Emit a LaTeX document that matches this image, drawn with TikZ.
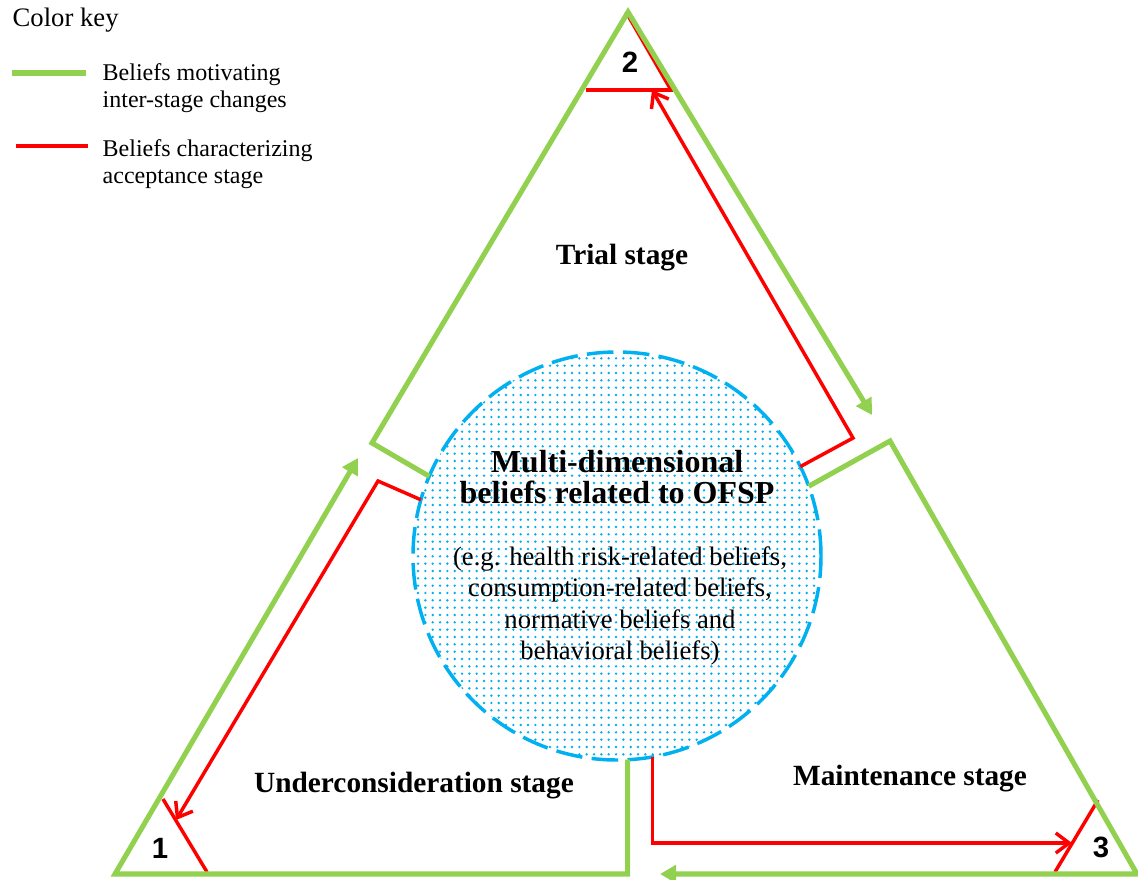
\documentclass[tikz,border=0pt]{standalone}
\usepackage{fontspec}
\setmainfont{Liberation Serif}
\newfontfamily\numfont{Liberation Sans}
\usetikzlibrary{arrows.meta,patterns.meta,positioning}

\definecolor{keygreen}{HTML}{92D050}
\definecolor{keyred}{HTML}{FF0000}
\definecolor{keyblue}{HTML}{00B0F0}

\tikzset{
  motive/.style={draw=keygreen, line width=3.8pt},
  accept/.style={draw=keyred, line width=2.6pt},
  motivetip/.style={-{Triangle[length=12pt,width=13pt]}},
  accepttip/.style={-{Straight Barb[length=10pt,width=15pt,line width=2.6pt]}},
  stagelabel/.style={font=\bfseries\fontsize{22}{24}\selectfont},
  numlabel/.style={font=\numfont\bfseries\fontsize{22}{24}\selectfont},
  keytext/.style={anchor=west, align=left, font=\fontsize{18}{20}\selectfont}
}

\begin{document}
\begin{tikzpicture}[x=0.75pt,y=-0.75pt]
  \useasboundingbox (0,0) rectangle (1138,879);

  % colour key
  \node[anchor=west, font=\fontsize{20}{22}\selectfont] (keytitle) at (8,20) {Color key};
  \coordinate (kg1) at (12,73);
  \coordinate (kg2) at (86,73);
  \coordinate (kr1) at (16,146);
  \coordinate (kr2) at (88,146);
  \draw[motive] (kg1) -- (kg2);
  \draw[accept] (kr1) -- (kr2);
  \node[keytext] (keymotive) at (98,88) {Beliefs motivating\\inter-stage changes};
  \node[keytext] (keyaccept) at (98,164) {Beliefs characterizing\\acceptance stage};

  % central beliefs
  \node[circle, minimum size=306pt, inner sep=0pt, outer sep=0pt,
        pattern={Dots[distance=5.5pt,radius=1pt]}, pattern color=keyblue,
        draw=keyblue, line width=2.6pt, dash pattern=on 20pt off 7pt] (core) at (617,556) {};
  \node[align=center, font=\bfseries\fontsize{24}{23.5}\selectfont] (coretitle) at (617,477)
    {Multi-dimensional\\beliefs related to OFSP};
  \node[align=center, font=\fontsize{20}{23.5}\selectfont] (coreex) at (620,606)
    {(e.g. health risk-related beliefs,\\consumption-related beliefs,\\normative beliefs and\\behavioral beliefs)};

  % corners of the stages
  \coordinate (apex2) at (628,12);
  \coordinate (c1) at (115,874);
  \coordinate (c3) at (1137,874);
  \coordinate (trialleft) at (372,443);
  \coordinate (maintop) at (890,441);
  \coordinate (tip12) at (358,458);
  \coordinate (tip23) at (872,415);
  \coordinate (tip31) at (660,874);

  % red corner marks
  \draw[accept] (586,90) -- (673,90);
  \draw[accept] (626,12) -- (671,90);
  \draw[accept] (163,799) -- (207,872);
  \draw[accept] (1098,800) -- (1055,872);

  % stage outlines
  \draw[motive, motivetip] (core.157) -- (trialleft) -- (apex2) -- (tip23);
  \draw[motive, motivetip] (core.20) -- (maintop) -- (c3) -- (tip31);
  \draw[motive, motivetip] (core.273) |- (c1) -- (tip12);

  % acceptance paths
  \coordinate (r2) at (853,438);
  \coordinate (r1) at (378,481);
  \coordinate (tipr2) at (652,90);
  \coordinate (tipr1) at (176,820);
  \coordinate (tipr3) at (1072,843);
  \draw[accept, accepttip] (core.26) -- (r2) -- (tipr2);
  \draw[accept, accepttip] (core.164) -- (r1) -- (tipr1);
  \draw[accept, accepttip] (core.280) |- (tipr3);

  % labels
  \node[stagelabel] (trial) at (622,258) {Trial stage};
  \node[stagelabel] (under) at (414,786) {Underconsideration stage};
  \node[stagelabel] (maint) at (910,779) {Maintenance stage};
  \node[numlabel] (n2) at (630,62) {2};
  \node[numlabel] (n1) at (160,848) {1};
  \node[numlabel] (n3) at (1101,847) {3};
\end{tikzpicture}
\end{document}
